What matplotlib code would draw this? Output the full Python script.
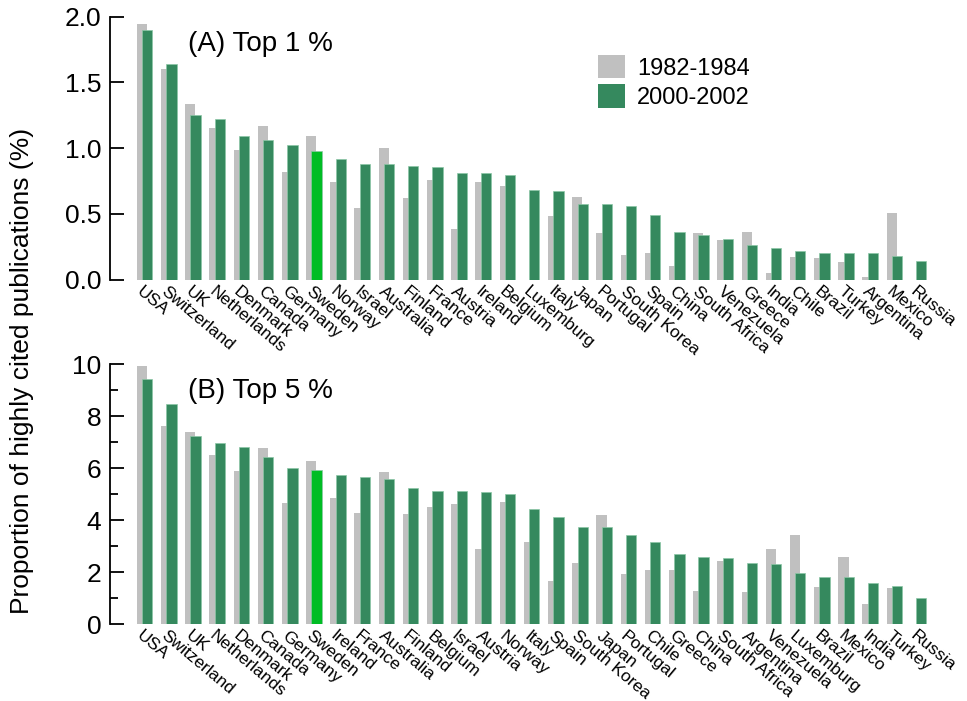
import matplotlib
matplotlib.use("Agg")
import matplotlib.pyplot as plt
import numpy as np
from matplotlib.patches import Patch

plt.rcParams['font.family'] = ['Liberation Sans', 'DejaVu Sans']

# ---- Panel A: Top 1 % ----
countries_a = ["USA", "Switzerland", "UK", "Netherlands", "Denmark", "Canada", "Germany",
               "Sweden", "Norway", "Israel", "Australia", "Finland", "France", "Austria",
               "Ireland", "Belgium", "Luxemburg", "Italy", "Japan", "Portugal", "South Korea",
               "Spain", "China", "South Africa", "Venezuela", "Greece", "India", "Chile",
               "Brazil", "Turkey", "Argentina", "Mexico", "Russia"]
early_a = [1.944, 1.60, 1.333, 1.151, 0.986, 1.166, 0.816, 1.09, 0.745, 0.544, 0.998, 0.620,
           0.757, 0.384, 0.742, 0.712, 0.0, 0.483, 0.628, 0.351, 0.184, 0.199, 0.103,
           0.354, 0.298, 0.361, 0.049, 0.171, 0.166, 0.133, 0.017, 0.506, 0.0]
late_a = [1.899, 1.638, 1.252, 1.221, 1.092, 1.064, 1.024, 0.978, 0.915, 0.879, 0.877, 0.861,
          0.854, 0.813, 0.808, 0.795, 0.684, 0.674, 0.577, 0.575, 0.559, 0.489, 0.365,
          0.339, 0.311, 0.265, 0.242, 0.217, 0.202, 0.202, 0.202, 0.176, 0.141]

# ---- Panel B: Top 5 % ----
countries_b = ["USA", "Switzerland", "UK", "Netherlands", "Denmark", "Canada", "Germany",
               "Sweden", "Ireland", "France", "Australia", "Finland", "Belgium", "Israel",
               "Austria", "Norway", "Italy", "Spain", "South Korea", "Japan", "Portugal",
               "Chile", "Greece", "China", "South Africa", "Argentina", "Venezuela",
               "Luxemburg", "Brazil", "Mexico", "India", "Turkey", "Russia"]
early_b = [9.92, 7.62, 7.38, 6.50, 5.87, 6.76, 4.67, 6.28, 4.86, 4.27, 5.85, 4.24, 4.49, 4.62,
           2.90, 4.68, 3.14, 1.64, 2.35, 4.19, 1.92, 2.06, 2.08, 1.26, 2.42, 1.23, 2.88,
           3.42, 1.44, 2.59, 0.77, 1.40, 0.0]
late_b = [9.42, 8.47, 7.24, 6.96, 6.82, 6.44, 6.00, 5.92, 5.73, 5.64, 5.58, 5.24, 5.12, 5.12,
          5.06, 5.01, 4.41, 4.13, 3.73, 3.72, 3.44, 3.14, 2.69, 2.59, 2.54, 2.33, 2.32,
          1.95, 1.81, 1.80, 1.56, 1.46, 1.01]

series_labels = ["1982-1984", "2000-2002"]
highlight = "Sweden"

GRAY = "#c0c0c0"
GREEN = "#35895e"
BRIGHT = "#00bd24"

W, H = 967, 701
fig = plt.figure(figsize=(W / 100, H / 100), dpi=100)

ax_left = 109.5
ax_right = 945
axA = fig.add_axes([ax_left / W, 1 - 279.5 / H, (ax_right - ax_left) / W, (279.5 - 16.7) / H])
axB = fig.add_axes([ax_left / W, 1 - 624 / H, (ax_right - ax_left) / W, (624 - 364) / H])

bw = 0.425
off = -0.22


def draw(ax, countries, early, late, ymax, major, minor, title):
    x = np.arange(len(countries))
    ax.bar(x + off, early, width=bw, color=GRAY, edgecolor="none", zorder=1)
    cols = [BRIGHT if c == highlight else GREEN for c in countries]
    ax.bar(x, late, width=bw, color=cols, edgecolor="#8cc7a6", linewidth=0.5, zorder=2)
    ax.set_xlim(-1.56, 32.98)
    ax.set_ylim(0, ymax)
    for s in ["top", "right", "bottom"]:
        ax.spines[s].set_visible(False)
    ax.spines["left"].set_linewidth(1.3)
    ax.set_yticks(major)
    if minor is not None:
        ax.set_yticks(minor, minor=True)
    ax.tick_params(axis="y", which="major", direction="in", length=10, width=1.3,
                   labelsize=19, pad=6)
    ax.tick_params(axis="y", which="minor", direction="in", length=6, width=1.3)
    ax.set_xticks(x - 0.15)
    ax.set_xticklabels(countries, rotation=-40, ha="left", va="top",
                       rotation_mode="anchor", fontsize=12.5)
    ax.tick_params(axis="x", length=0, pad=3)
    ax.text(0.094, 0.945, title, transform=ax.transAxes, fontsize=20, ha="left", va="top")
    ax.patch.set_visible(False)


draw(axA, countries_a, early_a, late_a, 2.0, [0, 0.5, 1.0, 1.5, 2.0], None, "(A) Top 1 %")
axA.set_yticklabels(["0.0", "0.5", "1.0", "1.5", "2.0"])
draw(axB, countries_b, early_b, late_b, 10, [0, 2, 4, 6, 8, 10], [1, 3, 5, 7, 9], "(B) Top 5 %")

handles = [Patch(facecolor=GRAY, edgecolor="none"), Patch(facecolor=GREEN, edgecolor="none")]
fig.legend(handles, series_labels, loc="upper left",
           bbox_to_anchor=(598 / W, 1 - 55 / H), frameon=False, fontsize=17,
           handlelength=1.15, handleheight=1.15, labelspacing=0.2, handletextpad=0.5,
           borderpad=0, borderaxespad=0)

fig.text(22 / W, 1 - 371 / H, "Proportion of highly cited publications (%)", rotation=90,
         ha="center", va="center", fontsize=19)

fig.savefig("out.png", dpi=100)
